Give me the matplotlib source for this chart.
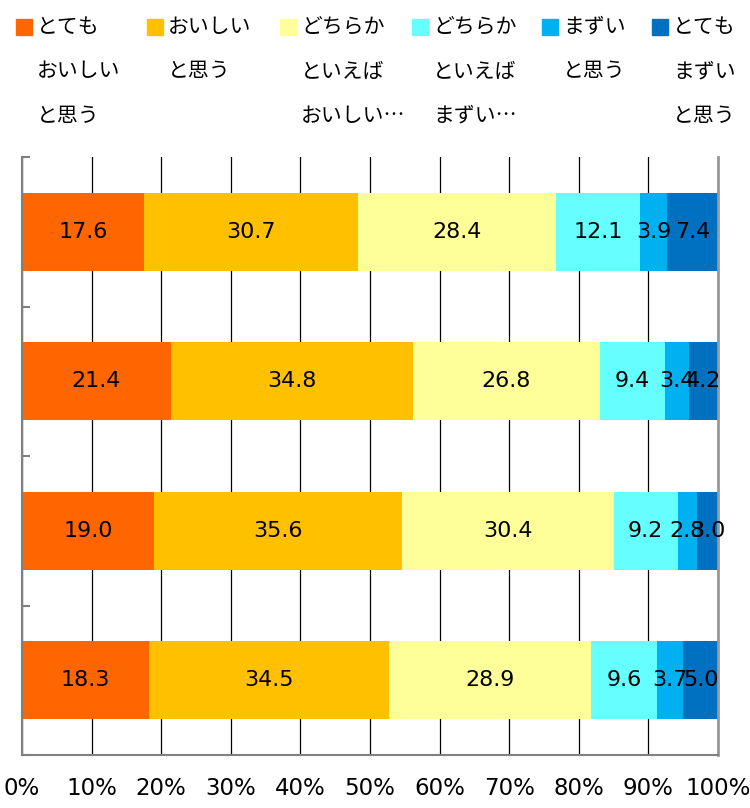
import numpy as np
import matplotlib.pyplot as plt
from matplotlib.patches import Rectangle

plt.rcParams['font.family'] = ['DejaVu Sans', 'Noto Sans CJK JP']

series_labels = ["とても\nおいしい\nと思う", "おいしい\nと思う", "どちらか\nといえば\nおいしい…",
                 "どちらか\nといえば\nまずい…", "まずい\nと思う", "とても\nまずい\nと思う"]
colors = ["#FF6600", "#FFC000", "#FFFF99", "#66FFFF", "#00B0F0", "#0070C0"]

# rows top to bottom
values = np.array([
    [17.6, 30.7, 28.4, 12.1, 3.9, 7.4],
    [21.4, 34.8, 26.8, 9.4, 3.4, 4.2],
    [19.0, 35.6, 30.4, 9.2, 2.8, 3.0],
    [18.3, 34.5, 28.9, 9.6, 3.7, 5.0],
])

fig = plt.figure(figsize=(7.5, 8.08), dpi=100)
ax = fig.add_axes([0.0293, 0.0656, 0.928, 0.740])

y = np.arange(len(values))
left = np.zeros(len(values))
for i in range(values.shape[1]):
    bars = ax.barh(y, values[:, i], left=left, height=0.52, color=colors[i], zorder=2)
    ax.bar_label(bars, labels=[f"{v:.1f}" for v in values[:, i]], label_type="center",
                 fontsize=16, color="black")
    left += values[:, i]

ax.set_xlim(0, 100)
ax.set_ylim(len(values) - 0.5, -0.5)
ax.set_xticks(np.arange(0, 101, 10))
ax.set_xticklabels([f"{t}%" for t in range(0, 101, 10)], fontsize=16.5)
ax.tick_params(axis="x", length=0, pad=16)
ax.set_yticks(np.arange(-0.5, len(values), 1))
ax.set_yticklabels([])
ax.tick_params(axis="y", direction="in", length=6, color="#808080", width=1.5)
ax.grid(axis="x", color="black", lw=0.9, zorder=1)
ax.spines["top"].set_visible(False)
ax.spines["right"].set_color("#999999")
ax.spines["right"].set_linewidth(2)
ax.spines["left"].set_color("#808080")
ax.spines["left"].set_linewidth(1.5)
ax.spines["bottom"].set_color("#808080")
ax.spines["bottom"].set_linewidth(1.5)

# legend drawn by hand to match the multi-line layout
sq_x = [16, 147, 280, 412, 542, 652]
W, H = 750, 808
for i, lab in enumerate(series_labels):
    fig.add_artist(Rectangle((sq_x[i] / W, 1 - 35 / H), 16 / W, 16 / H,
                             transform=fig.transFigure, color=colors[i]))
    fig.text((sq_x[i] + 21) / W, 1 - 16 / H, lab, fontsize=15, va="top", ha="left",
             linespacing=2.32, family=["Noto Sans CJK JP", "DejaVu Sans"])

fig.savefig("out.png", dpi=100)
